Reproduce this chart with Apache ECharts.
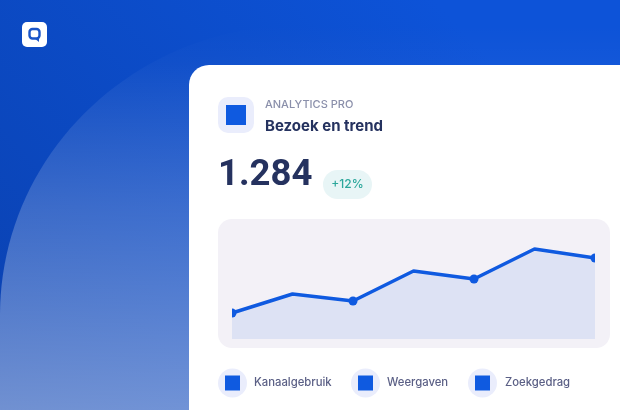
<!DOCTYPE html>
<html><head><meta charset="utf-8">
<style>html,body{margin:0;padding:0;background:#fff}#c{width:620px;height:410px}</style>
<script src="https://cdn.jsdelivr.net/npm/echarts@6/dist/echarts.min.js"></script>
</head><body><div id="c"></div>
<script>
const categories = ['1','2','3','4','5','6','7'];
const visits = [26,45,38,68,60,90,81];
const legendLabels = ['Kanaalgebruik','Weergaven','Zoekgedrag'];
const eyebrow = 'ANALYTICS PRO';
const titleText = 'Bezoek en trend';
const bigNumber = '1.284';
const badgeText = '+12%';

const BLUE = '#0f5ae0', F = 'Inter, "Noto Sans", sans-serif';
const legendX = [218, 351, 468], legendTextX = [254, 387, 505];
const chart = echarts.init(document.getElementById('c'), null, {renderer:'canvas'});
const vGrad = (stops) => new echarts.graphic.LinearGradient(0,0,0,1,stops);
// background swoosh outline: quarter ellipse, then straight out to the window edges
const swoosh = [[0,410]];
for (let a = 180; a <= 270; a += 2) {
  const r = a*Math.PI/180;
  swoosh.push([300+300*Math.cos(r), 315+290*Math.sin(r)]);
}
swoosh.push([620,25],[620,410]);
const gfx = [
  {type:'rect',z:-10,shape:{x:0,y:0,width:620,height:410},
    style:{fill:new echarts.graphic.LinearGradient(0.7,0,0,1,[{offset:0,color:'#0d53d8'},{offset:1,color:'#0a41b0'}])}},
  {type:'polygon',z:-9,shape:{points:swoosh},
    style:{fill:vGrad([{offset:0,color:'rgba(255,255,255,0)'},{offset:0.1,color:'rgba(255,255,255,0.025)'},{offset:0.47,color:'rgba(255,255,255,0.2)'},{offset:1,color:'rgba(255,255,255,0.42)'}])}},
  {type:'rect',z:-8,shape:{x:189,y:65,width:460,height:380,r:20},style:{fill:'#fff'}},
  // logo
  {type:'rect',z:-7,shape:{x:22,y:22,width:25,height:25,r:5},style:{fill:'#fff'}},
  {type:'rect',z:-6,shape:{x:29.5,y:29,width:10,height:9.5,r:3},style:{fill:'none',stroke:'#1a55c8',lineWidth:2.4}},
  {type:'polygon',z:-6,shape:{points:[[34,38],[39,38],[39,42]]},style:{fill:'#1a55c8'}},
  // header
  {type:'rect',z:-7,shape:{x:218,y:97,width:36,height:36,r:10},style:{fill:'#eaedfc'}},
  {type:'rect',z:-6,shape:{x:226,y:105,width:20,height:20},style:{fill:BLUE}},
  {type:'text',z:-6,style:{x:265,y:104.5,text:eyebrow,font:'500 11px '+F,fill:'#8b90ab',textVerticalAlign:'middle'}},
  {type:'text',z:-6,style:{x:265,y:126,text:titleText,font:'700 15px '+F,fill:'#25325f',textVerticalAlign:'middle'}},
  {type:'text',z:-6,style:{x:218,y:176,text:bigNumber,font:'700 36.5px Roboto, '+F,fill:'#25325f',textVerticalAlign:'middle'}},
  {type:'rect',z:-7,shape:{x:323,y:170,width:49,height:29,r:14.5},style:{fill:'#e8f5f6'}},
  {type:'text',z:-6,style:{x:347.5,y:184.5,text:badgeText,font:'500 12px '+F,fill:'#2ba79b',textAlign:'center',textVerticalAlign:'middle'}},
  // panel
  {type:'rect',z:-7,shape:{x:218,y:219,width:392,height:129,r:14},style:{fill:'#f3f1f7'}},
  // half-hide the end markers, as in the reference
  {type:'rect',z:50,shape:{x:222,y:300,width:10,height:30},style:{fill:'#f3f1f7'}},
  {type:'rect',z:50,shape:{x:595,y:245,width:10,height:30},style:{fill:'#f3f1f7'}},
];
legendLabels.forEach((t,i)=>{
  gfx.push({type:'circle',z:-7,shape:{cx:legendX[i]+14.5,cy:383,r:14.5},style:{fill:'#eaedfc'}});
  gfx.push({type:'rect',z:-6,shape:{x:legendX[i]+7,y:375.5,width:15,height:15},style:{fill:BLUE}});
  gfx.push({type:'text',z:-6,style:{x:legendTextX[i],y:382.5,text:t,font:'500 11.3px '+F,fill:'#5a5f85',textVerticalAlign:'middle'}});
});
chart.setOption({
  animation:false,
  graphic:gfx,
  grid:{left:232,right:25,top:239,bottom:71,containLabel:false},
  xAxis:{type:'category',data:categories,boundaryGap:false,show:false},
  yAxis:{type:'value',min:0,max:100,show:false},
  series:[{type:'line',data:visits,z:10,showAllSymbol:true,symbol:'circle',
    symbolSize:(v,p)=>p.dataIndex%2===0?9:0,
    lineStyle:{color:BLUE,width:3.5},itemStyle:{color:BLUE},
    areaStyle:{color:'rgba(15,90,224,0.135)'}}]
});
</script></body></html>
